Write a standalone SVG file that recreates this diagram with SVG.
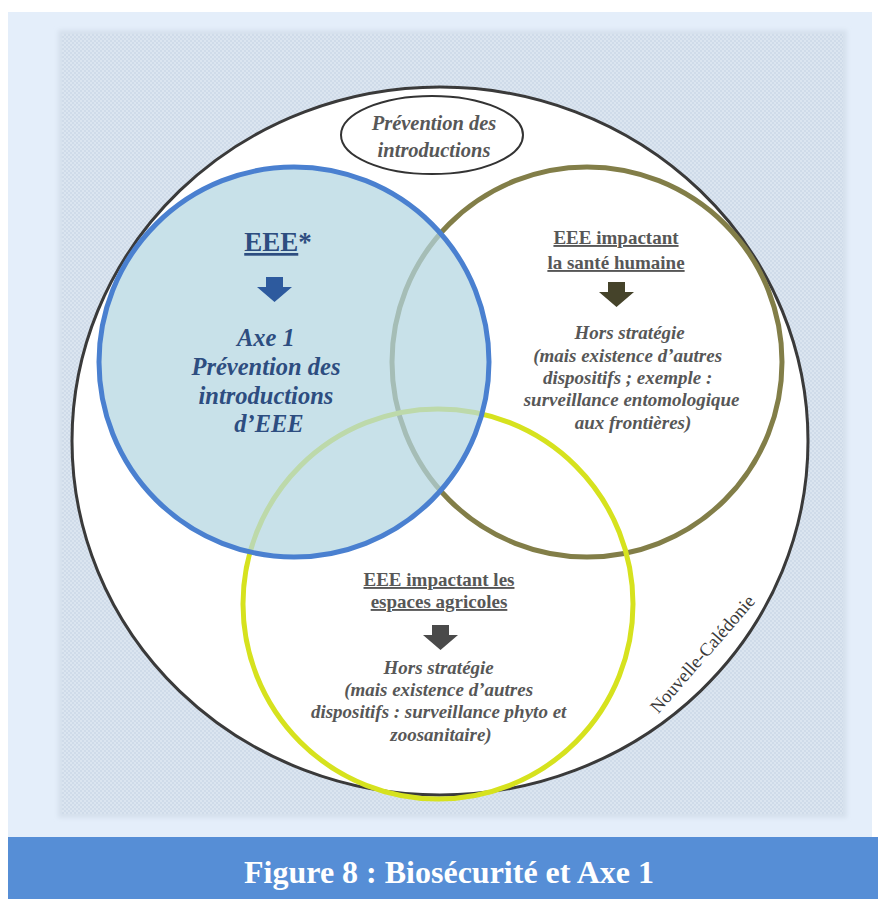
<svg xmlns="http://www.w3.org/2000/svg" width="878" height="899" viewBox="0 0 878 899">
  <defs>
    <pattern id="dots" x="0" y="0" width="4" height="4" patternUnits="userSpaceOnUse">
      <rect width="4" height="4" fill="#cfdbe9"/>
      <rect x="0" y="0" width="2" height="2" fill="#dbe5f0"/>
      <rect x="2" y="2" width="2" height="2" fill="#dbe5f0"/>
    </pattern>
    <filter id="soft" x="-5%" y="-5%" width="110%" height="110%">
      <feGaussianBlur stdDeviation="2"/>
    </filter>
  </defs>
  <style>
    .serif { font-family: "Liberation Serif", "Times New Roman", serif; }
    .blueT { fill: #2d4d80; font-weight: bold; }
    .grayT { fill: #575757; font-weight: bold; }
    .ital { font-style: italic; }
    .ring { fill: none; stroke-width: 5; }
  </style>

  <!-- background frame -->
  <rect x="0" y="0" width="878" height="899" fill="#ffffff"/>
  <rect x="8" y="12" width="864" height="826" fill="#e4eefa"/>
  <rect x="58" y="30" width="789" height="788" fill="url(#dots)" filter="url(#soft)"/>
  <rect x="62" y="34" width="781" height="780" fill="url(#dots)"/>

  <!-- outer region -->
  <g id="nouvelle-caledonie">
    <ellipse cx="440" cy="441" rx="368" ry="354" fill="#ffffff" stroke="#3a3a3a" stroke-width="3"/>
    <text class="serif" x="0" y="0" font-size="18.5" fill="#3a3a3a" text-anchor="middle" transform="translate(707,658) rotate(-49)">Nouvelle-Calédonie</text>
  </g>

  <!-- prevention ellipse -->
  <g id="prevention-introductions">
    <ellipse cx="432" cy="135" rx="91" ry="39" fill="#ffffff" stroke="#333333" stroke-width="2"/>
    <text class="serif grayT ital" x="434" y="130" font-size="20.5" text-anchor="middle">Prévention des</text>
    <text class="serif grayT ital" x="434" y="157" font-size="20.5" text-anchor="middle">introductions</text>
  </g>

  <!-- health circle -->
  <g id="sante-humaine">
    <circle class="ring" cx="587" cy="362" r="195" stroke="#827e48"/>
    <text class="serif grayT" x="616" y="244" font-size="19" text-anchor="middle" text-decoration="underline">EEE impactant</text>
    <text class="serif grayT" x="616" y="269" font-size="19" text-anchor="middle" text-decoration="underline">la santé humaine</text>
    <text class="serif grayT ital" font-size="19" text-anchor="middle">
      <tspan x="632" y="339">Hors stratégie</tspan>
      <tspan x="630" y="362">(mais existence d’autres</tspan>
      <tspan x="630" y="384">dispositifs ; exemple :</tspan>
      <tspan x="634" y="406">surveillance entomologique</tspan>
      <tspan x="633" y="429">aux frontières)</tspan>
    </text>
  </g>

  <!-- agricultural circle -->
  <g id="espaces-agricoles">
    <circle class="ring" cx="438" cy="604" r="195" stroke="#d6e21e"/>
    <text class="serif grayT" x="439" y="586" font-size="19" text-anchor="middle" text-decoration="underline">EEE impactant les</text>
    <text class="serif grayT" x="439" y="608" font-size="19" text-anchor="middle" text-decoration="underline">espaces agricoles</text>
    <text class="serif grayT ital" font-size="19" text-anchor="middle">
      <tspan x="441" y="674">Hors stratégie</tspan>
      <tspan x="441" y="696">(mais existence d’autres</tspan>
      <tspan x="441" y="718">dispositifs : surveillance phyto et</tspan>
      <tspan x="441" y="741">zoosanitaire)</tspan>
    </text>
  </g>

  <!-- EEE / Axe 1 circle -->
  <g id="eee-axe1">
    <circle cx="294" cy="362" r="195" fill="#b3d6e0" fill-opacity="0.72" stroke="#4a80d0" stroke-width="5"/>
    <text class="serif blueT" x="278" y="251" font-size="27" text-anchor="middle"><tspan text-decoration="underline">EEE</tspan>*</text>
    <text class="serif blueT ital" font-size="24.5" text-anchor="middle">
      <tspan x="269" y="346">Axe 1</tspan>
      <tspan x="269" y="375">Prévention des</tspan>
      <tspan x="269" y="404">introductions</tspan>
      <tspan x="269" y="432">d’EEE</tspan>
    </text>
  </g>

  <!-- connectors: block arrows -->
  <g id="connectors">
    <path d="M266,277 h17 v10 h9 l-17.5,15 l-17.5,-15 h9 z" fill="#2d5a9e"/>
    <path d="M608,282 h17 v10 h9 l-17.5,15 l-17.5,-15 h9 z" fill="#45432a"/>
    <path d="M432,625 h17 v10 h9 l-17.5,15 l-17.5,-15 h9 z" fill="#4a4a4a"/>
  </g>

  <!-- caption -->
  <g id="caption">
    <rect x="8" y="837" width="870" height="62" fill="#568ed6"/>
    <text class="serif" x="449" y="883" font-size="32" font-weight="bold" fill="#ffffff" text-anchor="middle">Figure 8 : Biosécurité et Axe 1</text>
  </g>
</svg>
